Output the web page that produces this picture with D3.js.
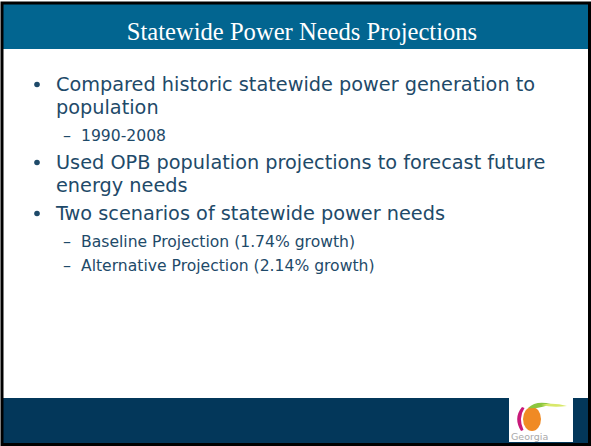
<!DOCTYPE html>
<html>
<head>
<meta charset="utf-8">
<script src="https://cdn.jsdelivr.net/npm/d3@7"></script>
<style>
  body { margin: 0; background: #fff; }
  svg { display: block; }
</style>
</head>
<body>
<svg id="slide" width="591" height="446"></svg>
<script>
// slide content
const title = "Statewide Power Needs Projections";
const level1 = [
  ["Compared historic statewide power generation to", "population"],
  ["Used OPB population projections to forecast future", "energy needs"],
  ["Two scenarios of statewide power needs"]
];
const level2 = [
  ["1990-2008"],
  [],
  ["Baseline Projection (1.74% growth)", "Alternative Projection (2.14% growth)"]
];
const logoLabel = "Georgia";

const width = 591, height = 446;
const svg = d3.select("#slide");

svg.append("rect").attr("width", width).attr("height", height).attr("fill", "#fff");

// header bar
svg.append("rect")
  .attr("x", 3).attr("y", 4).attr("width", width - 5).attr("height", 45)
  .attr("fill", "#026590");
svg.append("text")
  .attr("x", 302).attr("y", 40)
  .attr("text-anchor", "middle")
  .attr("font-family", "Liberation Serif, Times New Roman, serif")
  .attr("font-size", 24.6)
  .attr("fill", "#fff")
  .text(title);

// footer bar
svg.append("rect")
  .attr("x", 3).attr("y", 398).attr("width", width - 5).attr("height", 45)
  .attr("fill", "#03375a");

// build the list of lines
const rows = [];
level1.forEach((b, i) => {
  b.forEach((t, j) => rows.push({ level: 1, first: j === 0, text: t }));
  level2[i].forEach(t => rows.push({ level: 2, first: true, text: t }));
});

// vertical gaps between baselines
const gap = (prev, cur) => {
  if (!prev) return 91;
  if (cur.level === 1 && !cur.first) return 23;
  if (cur.level === 2 && prev.level === 1) return 27;
  if (cur.level === 2) return 24;
  return 28;
};
let y = 0;
rows.forEach((r, i) => { y += gap(rows[i - 1], r); r.y = y; });

const textColor = "#1e4a69";
const g = svg.append("g")
  .attr("font-family", "DejaVu Sans, Verdana, sans-serif")
  .attr("fill", textColor);

const row = g.selectAll("g.row").data(rows).join("g")
  .attr("class", "row")
  .attr("transform", d => `translate(0,${d.y})`);

row.filter(d => d.level === 1 && d.first).append("circle")
  .attr("cx", 37).attr("cy", -6.5).attr("r", 2.8);

row.filter(d => d.level === 2).append("text")
  .attr("x", 63).attr("font-size", 16)
  .text("\u2013");

row.append("text")
  .attr("x", d => d.level === 1 ? 56 : 81)
  .attr("font-size", d => d.level === 1 ? 19.3 : 15.6)
  .text(d => d.text);

// Georgia logo
const logo = svg.append("g").attr("transform", "translate(509,398)");
logo.append("rect").attr("width", 64).attr("height", 44).attr("fill", "#fff");
logo.append("path")
  .attr("d", "M13,9 Q4,20 12,33 L14.5,32 Q9,20 15.5,10 Z")
  .attr("fill", "#c8197a");
logo.append("ellipse")
  .attr("cx", 23).attr("cy", 21).attr("rx", 9).attr("ry", 12)
  .attr("fill", "#f08a24");
logo.append("path")
  .attr("d", "M19,10 Q27,2 42,6 Q31,11 19,10 Z")
  .attr("fill", "#8cc63f");
logo.append("path")
  .attr("d", "M32,7 Q44,4 58,8 Q44,10 32,7 Z")
  .attr("fill", "#d8e86a");
logo.append("text")
  .attr("x", 2).attr("y", 42)
  .attr("font-family", "DejaVu Sans, sans-serif")
  .attr("font-size", 9.5)
  .attr("fill", "#aaa")
  .text(logoLabel);

// outer frame
svg.append("rect")
  .attr("x", 2).attr("y", 3).attr("width", width - 3.5).attr("height", height - 4.5)
  .attr("fill", "none").attr("stroke", "#000").attr("stroke-width", 3);
</script>
</body>
</html>
